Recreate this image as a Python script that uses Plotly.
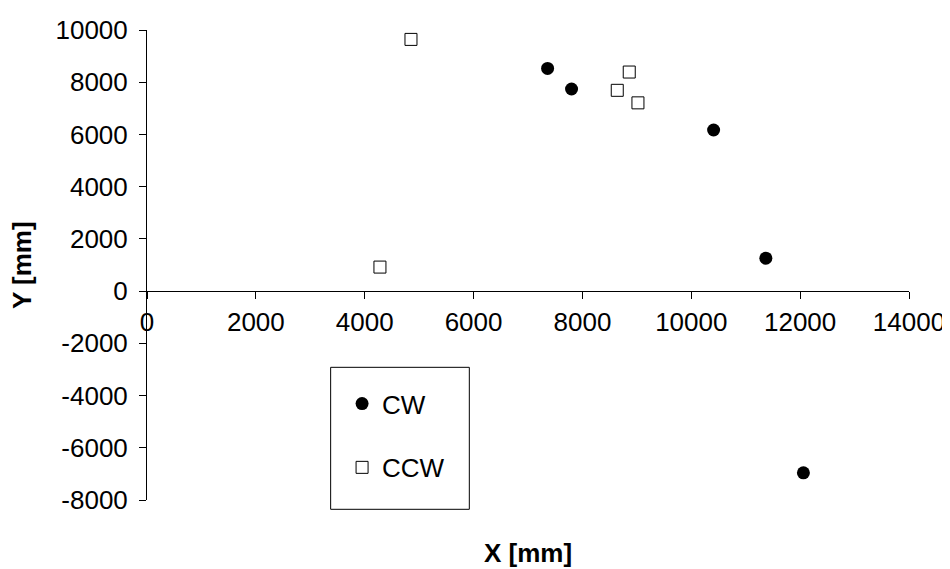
import plotly.graph_objects as go

# Data
cw_x = [7360, 7800, 10410, 11370, 12060]
cw_y = [8530, 7740, 6170, 1260, -6960]
ccw_x = [4850, 4280, 8860, 8640, 9020]
ccw_y = [9640, 920, 8390, 7690, 7210]

x_ticks = [0, 2000, 4000, 6000, 8000, 10000, 12000, 14000]
x_tick_labels = ["0", "2000", "4000", "6000", "8000", "10000", "12000", "14000"]
y_ticks = [-8000, -6000, -4000, -2000, 0, 2000, 4000, 6000, 8000, 10000]
y_tick_labels = ["-8000", "-6000", "-4000", "-2000", "0", "2000", "4000",
                 "6000", "8000", "10000"]

FONT = "Liberation Sans, Arial, sans-serif"
TICK_SIZE = 26

fig = go.Figure()
fig.add_trace(go.Scatter(
    x=cw_x, y=cw_y, mode="markers", name="CW", legendgroup="a",
    marker=dict(symbol="circle", size=13, color="black", line=dict(width=0)),
))
fig.add_trace(go.Scatter(
    x=ccw_x, y=ccw_y, mode="markers", name="CCW", legendgroup="b",
    marker=dict(symbol="square-open", size=12, color="black", line=dict(width=1)),
))

y0_pos = (0 - y_ticks[0]) / (y_ticks[-1] - y_ticks[0])

common_x = dict(range=[x_ticks[0], x_ticks[-1]], tickvals=x_ticks,
                ticktext=x_tick_labels,
                showgrid=False, zeroline=False, tickcolor="black", ticklen=7,
                tickwidth=1)
common_y = dict(range=[y_ticks[0], y_ticks[-1]], tickvals=y_ticks,
                ticktext=y_tick_labels,
                showgrid=False, zeroline=False, tickcolor="black", ticklen=7,
                tickwidth=1)

# the page body has an 8px margin, so shift the plot area up/left by 8px
fig.update_layout(
    width=950, height=569,
    margin=dict(l=139, r=49, t=22, b=77, autoexpand=False),
    paper_bgcolor="white", plot_bgcolor="white",
    font=dict(family=FONT, color="black", size=TICK_SIZE),
    xaxis=dict(**common_x, anchor="free", position=y0_pos, ticks="outside",
               showline=True, linecolor="black", linewidth=1,
               tickfont=dict(size=TICK_SIZE), ticklabelstandoff=1),
    xaxis2=dict(**common_x, overlaying="x", anchor="free", position=y0_pos,
                ticks="inside", showline=False, showticklabels=False, matches="x"),
    yaxis=dict(**common_y, anchor="x", ticks="outside", showline=True,
               linecolor="black", linewidth=1, tickfont=dict(size=TICK_SIZE),
               ticklabelstandoff=6),
    yaxis2=dict(**common_y, overlaying="y", anchor="x", side="left",
                ticks="inside", showline=False, showticklabels=False, matches="y"),
    showlegend=True,
    legend=dict(x=0.256, y=0.255, xanchor="left", yanchor="top",
                bgcolor="rgba(0,0,0,0)", borderwidth=0,
                font=dict(size=TICK_SIZE), tracegroupgap=27,
                traceorder="grouped"),
    shapes=[dict(type="rect", xref="paper", yref="paper",
                 x0=0.241, x1=0.423, y0=-0.0198, y1=0.2823,
                 line=dict(color="black", width=1), fillcolor="rgba(0,0,0,0)")],
    annotations=[
        dict(text="<b>X [mm]</b>", xref="paper", yref="paper", x=0.5, y=-0.113,
             xanchor="center", yanchor="middle", showarrow=False,
             font=dict(size=26)),
        dict(text="<b>Y [mm]</b>", xref="paper", yref="paper", x=-0.164, y=0.5,
             xanchor="center", yanchor="middle", showarrow=False, textangle=-90,
             font=dict(size=26)),
    ],
)

fig.write_html("out.html")
